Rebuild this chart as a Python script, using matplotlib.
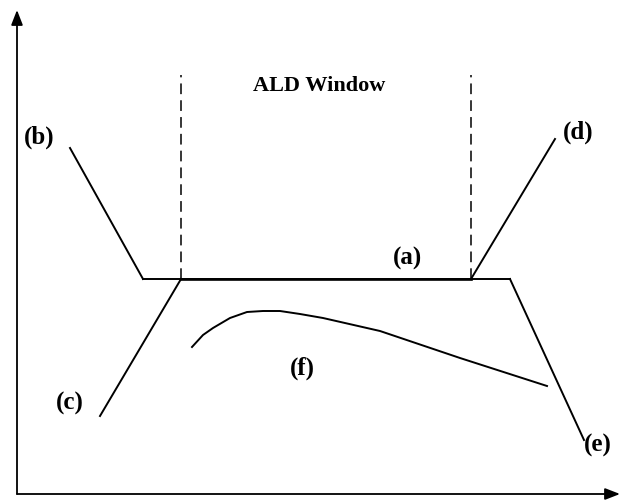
import matplotlib.pyplot as plt
import numpy as np

# schematic coordinates: origin at the axis corner, y upward
b_x = [53, 126]
b_y = [346, 215]
plateau_x = [126, 493]
plateau_y = [215, 215]
a_x = [164, 454]
a_y = [215, 215]
c_x = [83, 164]
c_y = [78, 215]
d_x = [454, 538]
d_y = [215, 355]
e_x = [493, 567]
e_y = [215, 54]
window_x = [164, 454]
window_top = 419
f_x = [175, 186, 196, 213, 230, 246, 263, 283, 306, 363, 443, 530]
f_y = [147, 159, 166, 176, 182, 183, 183, 180, 176, 163, 136, 108]

labels = {
    "(a)": (391, 236),
    "(b)": (22, 357),
    "(c)": (53, 91),
    "(d)": (561, 362),
    "(e)": (581, 49),
    "(f)": (285, 126),
}

plt.rcParams["font.family"] = ["Liberation Serif", "DejaVu Serif"]

fig = plt.figure(figsize=(6.21, 5.04), dpi=100)
ax = fig.add_axes([0, 0, 1, 1])
ax.set_xlim(-17, 604)
ax.set_ylim(-10, 494)
ax.axis("off")

# axes with arrow heads
arrow = dict(arrowstyle="-|>,head_length=0.9,head_width=0.35", color="black",
             lw=1.3, shrinkA=0, shrinkB=0)
ax.annotate("", xy=(0, 484), xytext=(0, 0), arrowprops=arrow)
ax.annotate("", xy=(603, 0), xytext=(0, 0), arrowprops=arrow)

lw = 1.4
ax.plot(b_x, b_y, color="black", lw=lw)
ax.plot(plateau_x, plateau_y, color="black", lw=lw)
ax.plot(a_x, a_y, color="black", lw=lw + 0.5)
ax.plot(c_x, c_y, color="black", lw=lw)
ax.plot(d_x, d_y, color="black", lw=lw)
ax.plot(e_x, e_y, color="black", lw=lw)

for x in window_x:
    ax.plot([x, x], [215, window_top], color="black", lw=1.1,
            linestyle=(0, (7, 4)))

ax.plot(f_x, f_y, color="black", lw=lw, solid_joinstyle="round")

ax.text(302, 408, "ALD Window", ha="center", va="center",
        fontsize=16, fontweight="bold")
for name, (x, y) in labels.items():
    ax.text(x, y, name, ha="center", va="center", fontsize=18,
            fontweight="bold")

fig.savefig("out.png", dpi=100)
